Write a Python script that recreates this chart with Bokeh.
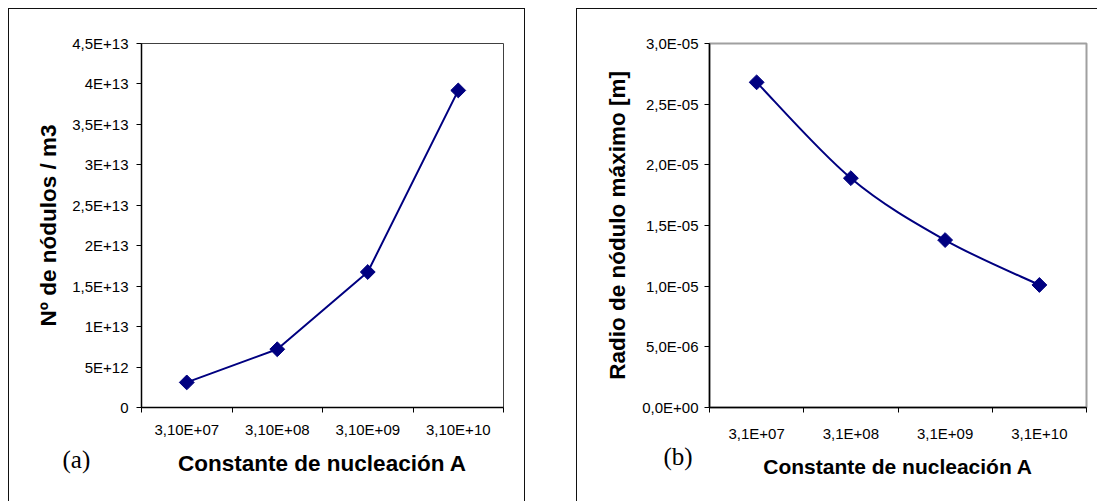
import numpy as np
from bokeh.plotting import figure
from bokeh.models import Range1d, FixedTicker, Label
from bokeh.layouts import row
from bokeh.embed import file_html
from bokeh.resources import INLINE

# ---- data -------------------------------------------------------------
categories_a = ["3,10E+07", "3,10E+08", "3,10E+09", "3,10E+10"]
nodulos = [3.1e12, 7.2e12, 1.675e13, 3.92e13]
y_ticks_a = [0, 5e12, 1e13, 1.5e13, 2e13, 2.5e13, 3e13, 3.5e13, 4e13, 4.5e13]
y_labels_a = ["0", "5E+12", "1E+13", "1,5E+13", "2E+13", "2,5E+13",
              "3E+13", "3,5E+13", "4E+13", "4,5E+13"]

categories_b = ["3,1E+07", "3,1E+08", "3,1E+09", "3,1E+10"]
radio = [2.68e-5, 1.89e-5, 1.38e-5, 1.01e-5]
y_ticks_b = [0, 5e-6, 1e-5, 1.5e-5, 2e-5, 2.5e-5, 3e-5]
y_labels_b = ["0,0E+00", "5,0E-06", "1,0E-05", "1,5E-05", "2,0E-05",
              "2,5E-05", "3,0E-05"]

x_title = "Constante de nucleación A"
y_title_a = "Nº de nódulos / m3"
y_title_b = "Radio de nódulo máximo [m]"

NAVY = "#000080"
FONT = "Liberation Sans"


def make_panel(categories, values, y_ticks, y_labels, y_title, tag,
               width, height, margin, min_borders, outline_color,
               outline_width, xtitle_size, x_std, xlab_std, y_std, ylab_std,
               tag_px, smooth):
    n = len(categories)
    p = figure(width=width, height=height, output_backend="svg",
               toolbar_location=None,
               x_range=Range1d(0, n), y_range=Range1d(y_ticks[0], y_ticks[-1]))
    p.margin = margin
    mb_l, mb_r, mb_t, mb_b = min_borders
    p.min_border_left, p.min_border_right, p.min_border_top, p.min_border_bottom = min_borders
    p.background_fill_color = "white"
    p.border_fill_color = "white"
    p.outline_line_color = outline_color
    p.outline_line_width = outline_width
    p.xgrid.visible = False
    p.ygrid.visible = False
    p.styles = {"outline": "1px solid #111111", "outline-offset": "0px"}

    xs = [i + 0.5 for i in range(n)]

    xa = p.xaxis[0]
    xa.ticker = FixedTicker(ticks=xs, minor_ticks=list(range(n + 1)))
    xa.major_label_overrides = {x: lab for x, lab in zip(xs, categories)}
    xa.major_tick_out = 0
    xa.major_tick_in = 0
    xa.minor_tick_out = 5
    xa.minor_tick_in = 0
    xa.minor_tick_line_color = "black"
    xa.axis_line_color = "black"
    xa.axis_line_width = 1.5
    xa.major_label_text_font = FONT
    xa.major_label_text_font_size = "15px"
    xa.major_label_text_color = "black"
    xa.major_label_standoff = x_std
    xa.axis_label = x_title
    xa.axis_label_text_font = FONT
    xa.axis_label_text_font_style = "bold"
    xa.axis_label_text_font_size = xtitle_size
    xa.axis_label_text_color = "black"
    xa.axis_label_standoff = xlab_std

    ya = p.yaxis[0]
    ya.ticker = FixedTicker(ticks=y_ticks, minor_ticks=[])
    ya.major_label_overrides = {t: lab for t, lab in zip(y_ticks, y_labels)}
    ya.major_tick_out = 5
    ya.major_tick_in = 0
    ya.major_tick_line_color = "black"
    ya.minor_tick_out = 0
    ya.minor_tick_in = 0
    ya.axis_line_color = "black"
    ya.axis_line_width = 1.5
    ya.major_label_text_font = FONT
    ya.major_label_text_font_size = "15px"
    ya.major_label_text_color = "black"
    ya.major_label_standoff = y_std
    ya.axis_label = y_title
    ya.axis_label_text_font = FONT
    ya.axis_label_text_font_style = "bold"
    ya.axis_label_text_font_size = "22.5px"
    ya.axis_label_text_color = "black"
    ya.axis_label_standoff = ylab_std

    if smooth:
        pts = list(zip(xs, values))
        x0, y0, x1, y1, cx0, cy0, cx1, cy1 = ([] for _ in range(8))
        for i in range(n - 1):
            pa = pts[i - 1] if i > 0 else pts[i]
            pb = pts[i]
            pc = pts[i + 1]
            pd = pts[i + 2] if i + 2 < n else pts[i + 1]
            x0.append(pb[0]); y0.append(pb[1])
            x1.append(pc[0]); y1.append(pc[1])
            cx0.append(pb[0] + (pc[0] - pa[0]) / 6.0)
            cy0.append(pb[1] + (pc[1] - pa[1]) / 6.0)
            cx1.append(pc[0] - (pd[0] - pb[0]) / 6.0)
            cy1.append(pc[1] - (pd[1] - pb[1]) / 6.0)
        p.bezier(x0=x0, y0=y0, x1=x1, y1=y1, cx0=cx0, cy0=cy0,
                 cx1=cx1, cy1=cy1, line_color=NAVY, line_width=2)
    else:
        p.line(xs, values, line_color=NAVY, line_width=2)

    p.scatter(xs, values, marker="square", size=10.5, angle=np.pi / 4,
              fill_color=NAVY, line_color=NAVY)

    # panel tag "(a)"/"(b)": pixel offset from the frame's bottom-left corner,
    # converted to data units; attached to the (otherwise empty) top side
    # panel so that it is not clipped to the plot frame
    frame_w = width - mb_l - mb_r
    frame_h = height - mb_t - mb_b
    tx = tag_px[0] * n / frame_w
    ty = y_ticks[0] + tag_px[1] * (y_ticks[-1] - y_ticks[0]) / frame_h
    p.add_layout(Label(x=tx, y=ty, text=tag,
                       text_font="Liberation Serif", text_font_size="25px",
                       text_color="black", text_baseline="alphabetic"),
                 "above")
    return p


p1 = make_panel(categories_a, nodulos, y_ticks_a, y_labels_a, y_title_a, "(a)",
                width=515, height=492, margin=(9, 0, 0, 9),
                min_borders=(132, 21, 34, 94), outline_color="#404040",
                outline_width=1, xtitle_size="22.5px", x_std=8, xlab_std=10,
                y_std=8, ylab_std=8, tag_px=(-79, -52), smooth=False)

p2 = make_panel(categories_b, radio, y_ticks_b, y_labels_b, y_title_b, "(b)",
                width=520, height=492, margin=(9, 0, 0, 53),
                min_borders=(132, 11, 34, 91), outline_color="#a0a0a0",
                outline_width=2, xtitle_size="21px", x_std=12, xlab_std=10,
                y_std=6, ylab_std=9, tag_px=(-46, -49), smooth=True)

layout = row(p1, p2, spacing=0)
open("out.html", "w").write(file_html(layout, INLINE))
